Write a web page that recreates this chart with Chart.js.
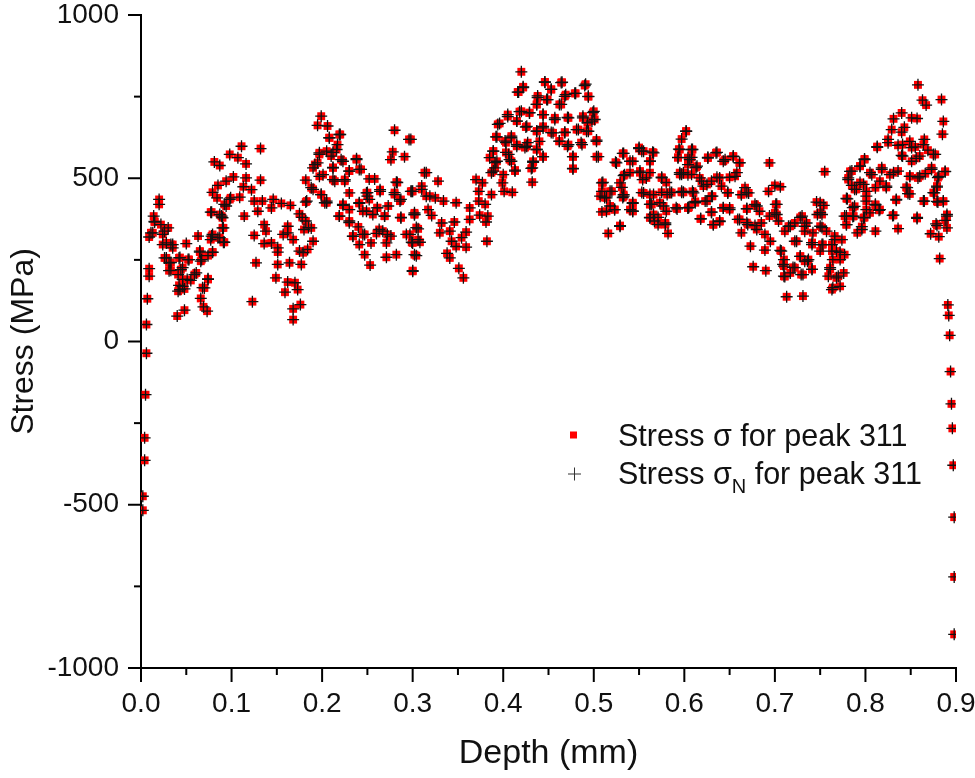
<!DOCTYPE html>
<html>
<head>
<meta charset="utf-8">
<title>Stress vs depth</title>
<script src="https://cdn.jsdelivr.net/npm/chart.js@4"></script>
<style>
html, body { margin: 0; padding: 0; background: #fff; }
canvas { display: block; }
</style>
</head>
<body>
<canvas id="stress-chart" width="975" height="778"></canvas>
<script>
// Values, grouped from left to right
const depth = [
    .002,.002,.004,.004,.005,.006,.006,.007,.009,.009,.011,.009,.014,.015,.020,.020,.022,.024,.026,.028,.030,.031,.033,.033,.035,
    .040,.041,.041,.042,.042,.046,.048,.048,.050,.051,.052,.061,.063,.065,.066,.066,.069,.070,.073,.074,.074,.077,.077,.079,.079,.079,
    .081,.084,.085,.085,.087,.087,.090,.091,.092,.094,.094,.098,.098,.099,.102,.107,.109,.111,.113,.114,.116,.116,.122,.123,.125,.125,.127,
    .129,.132,.132,.134,.136,.136,.138,.144,.144,.146,.149,.151,.151,.151,.155,.157,.159,.162,.162,.162,.164,.165,.168,.168,.168,.170,.173,.175,.175,.176,.177,
    .179,.180,.182,.182,.182,.184,.188,.188,.190,.190,.195,.195,.197,.197,.199,.199,.205,.205,.206,.208,.210,.212,.212,.216,.219,.220,.223,.223,.225,
    .230,.230,.230,.234,.238,.240,.241,.241,.241,.245,.247,.247,.249,.250,.252,.253,.254,.256,.258,.260,.261,.264,.267,.269,.271,.271,.273,.276,.276,.278,.280,.280,.282,.282,.287,.287,.291,.296,.297,.298,.300,.300,.302,.302,.306,
    .298,.300,.300,.302,.304,.306,.308,.299,.310,.315,.319,.321,.325,.328,.330,.332,.334,.338,.341,.341,.343,.346,.348,.348,.351,.354,.356,
    .359,.359,.363,.363,.370,.373,.373,.374,.377,.380,.381,.382,.383,.385,.387,.387,.389,.391,.393,.393,.396,.399,.400,.401,.402,.405,.406,.409,.409,.410,.413,.415,.415,.416,
    .420,.420,.422,.425,.426,.429,.432,.432,.433,.437,.437,.437,.438,.444,.444,.444,.446,.448,.453,.455,.457,.462,.462,.465,.468,.468,.472,.472,.477,.477,.479,.483,.487,.488,.491,.494,.494,.498,.500,.503,.505,
    .507,.509,.509,.509,.514,.516,.518,.520,.523,.525,.529,.529,.533,.533,.533,.533,.540,.540,.540,.543,.543,.550,.551,.555,.555,.558,.562,.562,.562,.562,.564,.566,.566,.566,.571,.575,.575,.577,.579,.581,.582,.584,.592,.593,.594,.595,.597,.597,.597,.599,.599,
    .602,.602,.604,.604,.604,.605,.606,.608,.609,.610,.612,.614,.617,.618,.621,.623,.626,.630,.630,.630,.632,.635,.639,.639,.641,.643,.645,.648,.650,.654,.656,.661,.661,.663,.663,.667,.669,.670,.671,.673,.676,.680,.680,.683,.685,.689,.689,.690,.693,.694,.694,.695,.700,.700,.702,.704,.706,.706,
    .710,.710,.710,.711,.713,.715,.717,.722,.722,.724,.728,.729,.730,.731,.733,.733,.735,.737,.741,.741,.742,.746,.747,.750,.750,.752,.753,.754,.755,.757,.759,.761,.763,.763,.764,.766,.768,.768,.772,.772,.774,.776,.777,
    .779,.779,.780,.781,.785,.785,.787,.788,.790,.791,.794,.796,.798,.798,.799,.801,.805,.805,.811,.811,.811,.813,.816,.818,.823,.825,.829,.831,.831,.831,.834,.836,.836,.840,.840,.841,.843,.846,.849,.849,.849,
    .851,.855,.856,.857,.857,.858,.858,.863,.865,.865,.866,.867,.869,.872,.873,.876,.877,.878,.879,.880,.881,.881,.882,.884,.885,.886,.886,.888,.888,.890,.890,
    .891,.892,.893,.894,.895,.896,.897,.898,.898,.898
];
const stress = [
    -474,-517,-295,-364,-163,-36,52,131,223,200,333,320,384,366,435,420,358,328,256,302,348,241,218,297,287,
    78,205,154,256,172,226,161,96,300,190,251,210,323,274,246,132,106,164,93,263,192,312,396,274,328,457,
    550,440,318,478,389,539,379,348,304,491,415,435,573,440,504,563,442,598,474,384,501,544,465,122,430,325,241,
    399,591,494,430,358,300,338,409,302,435,195,287,274,236,423,328,151,353,333,182,241,417,312,67,100,180,159,391,277,113,236,
    272,343,427,369,494,282,471,348,532,307,662,547,578,506,690,450,583,425,660,624,568,532,496,588,384,634,552,417,496,
    522,455,369,323,560,351,527,423,297,399,328,266,455,445,498,234,302,389,498,331,409,465,338,384,258,302,415,323,557,581,647,450,488,266,379,435,566,619,328,460,302,215,389,266,312,
    619,460,217,394,263,345,304,304,466,517,445,386,440,491,333,363,430,270,338,256,307,366,291,425,224,318,195,
    335,289,409,374,496,460,430,387,486,420,366,307,384,563,517,450,583,532,627,552,668,486,511,460,614,695,573,552,624,457,522,675,598,764,
    826,705,780,657,598,700,532,488,549,726,644,588,752,695,654,566,795,741,772,639,685,726,614,794,751,641,685,603,566,529,760,649,603,685,788,751,644,675,705,617,566,
    445,486,460,397,440,331,415,460,404,547,486,353,576,508,450,445,552,517,404,423,399,591,517,583,455,501,552,420,379,517,420,578,450,389,358,501,457,415,363,450,331,457,406,563,589,512,512,457,620,457,517,
    644,644,563,542,409,411,557,512,588,455,425,537,501,376,476,430,562,491,445,396,358,578,501,367,476,409,557,455,409,566,506,547,374,450,333,471,406,358,455,292,229,415,343,399,363,328,280,217,460,547,384,307,478,394,420,369,474,279,
    251,231,200,338,137,353,210,363,226,307,261,205,384,139,338,246,363,251,221,297,333,427,389,277,353,389,297,417,520,338,200,226,297,159,251,323,277,195,251,169,312,210,266,
    358,384,437,501,522,478,384,414,466,333,537,343,481,379,559,445,517,394,471,418,338,595,404,532,476,619,649,682,517,387,435,601,346,700,641,568,656,471,613,506,452,
    685,596,561,683,377,786,501,739,619,430,514,724,586,330,532,455,573,360,473,427,506,321,254,741,635,674,430,520,371,389,348,
    112,80,19,-92,-191,-266,-379,-538,-721,-897
];

// Second pass over the dense clusters, one line per cluster
const denseDepth = [
    .015,.026,.013,.024,.035,.028,.033,.043,.053,.067,.079,.065,.031,.044,.059,.046,.055,.074,.043,.068,.046,.089,.078,.092,.078,.087,.091,.090,
    .208,.219,.217,.197,.212,.221,.192,.201,.212,.230,.243,.214,.225,.238,.190,.199,.205,.223,.241,.250,.264,.283,.280,.299,.313,.310,.315,.230,.219,.230,.249,.261,.269,.286,.287,.302,.263,.245,.234,.304,.293,.183,.203,.185,.178,.272,.252,.317,
    .417,.422,.446,.453,.464,.490,.469,.480,.494,.438,.449,.437,.464,.418,.429,.405,.444,.457,.471,.488,.499,.394,.415,.426,.444,.493,.501,.437,.453,.468,.481,.492,.392,.409,.403,.415,.427,.440,.462,.471,.486,.503,.389,.403,.437,.424,.433,.431,.444,.477,.477,.503,.407,.413,.391,.389,
    .550,.553,.532,.565,.595,.608,.593,.608,.636,.654,.626,.643,.661,.524,.543,.562,.613,.595,.604,.534,.551,.554,.575,.619,.636,.650,.658,.625,.510,.531,.580,.586,.597,.609,.562,.553,.631,.648,.669,.663,.518,.512,.532,.543,.562,.573,.591,.612,.604,.625,.643,.650,.669,.678,.514,.523,.543,.580,.630,.562,.571,.579,.567,.618,.639,.632,.659,.529,.669,.678,
    .701,.750,.750,.702,.728,.717,.733,.752,.722,.741,.752,.766,.772,.763,.728,.707,.709,.736,.720,.741,.761,.711,.731,.770,.764,
    .813,.825,.841,.851,.864,.840,.875,.799,.851,.860,.794,.783,.818,.836,.873,.888,.807,.827,.849,.860,.781,.794,.816,.880,.788,.801,.823,.845,.879,.847,.875,.779,.834,.801,.811,.864,.879,.886,.786,.815,.801,.777,.786,.799,.830,.857,.779,.796,.879,.890
];
const denseStress = [
    368,338,333,297,297,256,242,257,251,251,273,277,217,220,205,190,187,190,159,165,169,384,396,420,323,318,304,348,
    624,634,603,573,579,557,542,511,533,522,527,491,491,557,466,450,430,420,425,456,460,487,456,460,517,476,445,404,384,364,399,410,384,430,380,389,343,328,322,349,328,430,425,349,380,328,435,404,
    764,778,794,772,793,784,756,760,750,747,741,726,726,704,701,689,695,680,686,690,701,665,675,659,659,670,680,644,640,640,649,644,627,629,609,603,609,613,613,598,609,613,583,579,588,594,552,530,566,566,530,566,557,525,548,522,
    594,583,576,580,588,588,564,564,579,568,564,552,548,549,552,552,533,517,511,511,522,496,503,491,503,503,517,481,487,472,487,456,460,460,450,456,445,456,456,450,460,441,441,425,420,425,410,429,410,430,410,404,407,420,399,404,399,399,396,380,380,358,369,376,369,358,374,355,364,355,
    420,425,395,389,380,353,353,349,307,303,297,312,273,277,261,277,236,246,227,221,221,199,205,200,165,
    597,609,603,594,603,570,573,557,552,568,537,521,527,522,527,521,511,511,506,506,496,487,491,502,466,460,472,472,476,453,456,438,433,430,420,430,429,429,410,402,404,384,383,380,386,380,358,352,355,384
];
const stressN = stress;
const denseStressN = denseStress;

const xMajorTicks = [0, .1, .2, .3, .4, .5, .6, .7, .8, .9];
const xMinorTicks = [.05, .15, .25, .35, .45, .55, .65, .75, .85];
const yMajorTicks = [-1000, -500, 0, 500, 1000];
const yMinorTicks = [-750, -250, 250, 750];

const fontFamily = '"Liberation Sans", Arial, sans-serif';

// Chart.js has no minor ticks on a linear axis, so the tick marks go on here
const tickMarks = {
    id: 'tickMarks',
    afterDatasetsDraw(chart) {
        const { ctx, chartArea, scales } = chart;
        ctx.save();
        ctx.strokeStyle = '#000';
        ctx.lineWidth = 2;
        const xTick = (value, len) => {
            const px = scales.x.getPixelForValue(value);
            ctx.beginPath();
            ctx.moveTo(px, chartArea.bottom);
            ctx.lineTo(px, chartArea.bottom + len);
            ctx.stroke();
        };
        const yTick = (value, len) => {
            const py = scales.y.getPixelForValue(value);
            ctx.beginPath();
            ctx.moveTo(chartArea.left, py);
            ctx.lineTo(chartArea.left - len, py);
            ctx.stroke();
        };
        xMajorTicks.forEach(v => xTick(v, 14));
        xMinorTicks.forEach(v => xTick(v, 7));
        yMajorTicks.forEach(v => yTick(v, 13));
        yMinorTicks.forEach(v => yTick(v, 7));
        ctx.restore();
    }
};

// Legend by hand because of the subscript in the second entry
const stressLegend = {
    id: 'stressLegend',
    afterDraw(chart) {
        const ctx = chart.ctx;
        ctx.save();
        ctx.fillStyle = '#111';
        ctx.textBaseline = 'alphabetic';
        ctx.font = '30.5px ' + fontFamily;
        ctx.fillText('Stress σ for peak 311', 618, 446);
        ctx.fillText('Stress σ', 618, 484);
        let textX = 618 + ctx.measureText('Stress σ').width;
        ctx.font = '20px ' + fontFamily;
        ctx.fillText('N', textX, 493);
        textX += ctx.measureText('N').width;
        ctx.font = '30.5px ' + fontFamily;
        ctx.fillText(' for peak 311', textX, 484);

        ctx.fillStyle = '#f00';
        ctx.fillRect(570, 431.5, 7, 7);
        ctx.strokeStyle = '#333';
        ctx.lineWidth = 1;
        ctx.beginPath();
        ctx.moveTo(568, 474);
        ctx.lineTo(581, 474);
        ctx.moveTo(574.5, 467.5);
        ctx.lineTo(574.5, 480.5);
        ctx.stroke();
        ctx.restore();
    }
};

function toPoints(xs, ys) {
    return xs.map((x, i) => ({ x: x, y: ys[i] }));
}

new Chart(document.getElementById('stress-chart'), {
    type: 'scatter',
    data: {
        datasets: [{
            label: 'Stress σ for peak 311',
            data: toPoints(depth.concat(denseDepth), stress.concat(denseStress)),
            pointStyle: 'rect',
            pointRadius: 5.6,
            pointBorderWidth: 0,
            backgroundColor: '#f00',
            clip: 0,
            order: 2
        }, {
            label: 'Stress σN for peak 311',
            data: toPoints(depth.concat(denseDepth), stressN.concat(denseStressN)),
            pointStyle: 'cross',
            pointRadius: 6,
            pointBorderWidth: 1.3,
            borderColor: '#111',
            clip: 0,
            order: 1
        }]
    },
    options: {
        responsive: false,
        animation: false,
        layout: { padding: { top: 15, right: 19, bottom: 0, left: 0 } },
        plugins: { legend: { display: false }, tooltip: { enabled: false } },
        scales: {
            x: {
                type: 'linear',
                min: 0,
                max: 0.9,
                afterFit: scale => {
                    scale.height = 110;
                    scale.paddingLeft = 0;
                    scale.paddingRight = 0;
                },
                afterBuildTicks: scale => { scale.ticks = xMajorTicks.map(v => ({ value: v })); },
                grid: { display: false, drawTicks: false },
                border: { color: '#000', width: 2 },
                ticks: {
                    color: '#111',
                    padding: 19,
                    maxRotation: 0,
                    font: { family: fontFamily, size: 28 },
                    callback: v => v.toFixed(1)
                },
                title: {
                    display: true,
                    text: 'Depth (mm)',
                    color: '#111',
                    padding: { top: 0, bottom: 4 },
                    font: { family: fontFamily, size: 34 }
                }
            },
            y: {
                type: 'linear',
                min: -1000,
                max: 1000,
                afterFit: scale => {
                    scale.width = 141;
                    scale.paddingTop = 0;
                    scale.paddingBottom = 0;
                },
                afterBuildTicks: scale => { scale.ticks = yMajorTicks.map(v => ({ value: v })); },
                grid: { display: false, drawTicks: false },
                border: { color: '#000', width: 2 },
                ticks: {
                    color: '#111',
                    padding: 22,
                    font: { family: fontFamily, size: 28 },
                    callback: v => String(v)
                },
                title: {
                    display: true,
                    text: 'Stress (MPa)',
                    color: '#111',
                    padding: { top: 5, bottom: 0 },
                    font: { family: fontFamily, size: 32 }
                }
            }
        }
    },
    plugins: [tickMarks, stressLegend]
});
</script>
</body>
</html>
